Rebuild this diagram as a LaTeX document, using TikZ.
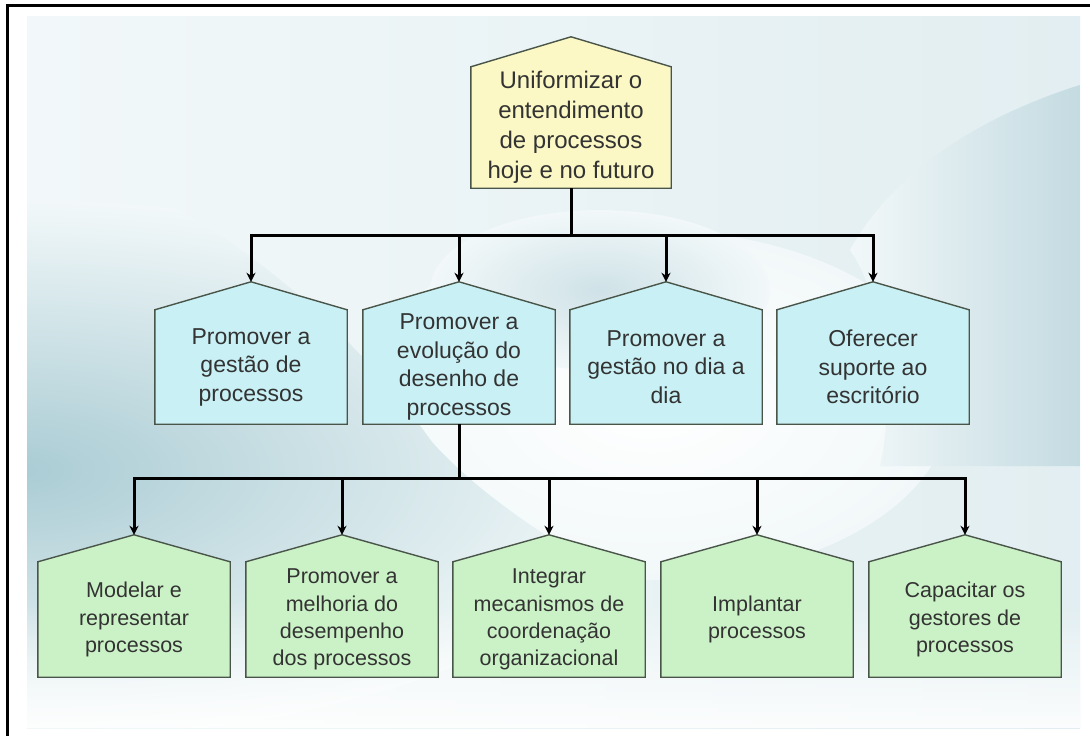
\documentclass[tikz,border=0pt]{standalone}
\usepackage{fontspec}
\setmainfont{Liberation Sans}
\usetikzlibrary{calc,arrows.meta}

\pgfdeclarelayer{backdrop}
\pgfdeclarelayer{boxes}
\pgfsetlayers{backdrop,boxes,main}

\definecolor{bgA}{HTML}{F2F8F9}
\definecolor{bgB}{HTML}{E2EEF1}
\definecolor{tealdeep}{HTML}{AACCD4}
\definecolor{bluegray}{HTML}{C4DBE1}
\definecolor{glow}{HTML}{CFE2E7}
\definecolor{goalfill}{HTML}{FBF8C5}
\definecolor{midfill}{HTML}{C9F1F5}
\definecolor{lowfill}{HTML}{CBF2C6}
\definecolor{edge}{HTML}{4A554A}
\definecolor{txt}{HTML}{333333}

\begin{document}
\begin{tikzpicture}[x=1pt,y=-1pt,
  body/.style={inner sep=0pt, align=center, text=txt},
  goalbody/.style={body, minimum width=200pt, minimum height=121pt,
    font=\fontsize{24}{30}\selectfont},
  midbody/.style={body, minimum width=192pt, minimum height=114pt,
    font=\fontsize{23}{28.5}\selectfont},
  lowbody/.style={body, minimum width=192pt, minimum height=115pt,
    font=\fontsize{21.5}{27.2}\selectfont},
  house/.style={fill=#1, draw=edge, line width=1.4pt, line join=miter},
  houseshadow/.style={fill=black, opacity=0.22},
  wire/.style={draw=black, line width=3pt},
  feed/.style={wire, -{Stealth[length=9pt,width=9pt]}, line join=miter}
]
\useasboundingbox (0,0) rectangle (1090,736);

% ---------- text bodies ----------
\node[goalbody] (goal) at (571,127.5) {Uniformizar o\\entendimento\\de processos\\hoje e no futuro};

\node[midbody] (m1) at (251,367) {Promover a\\gestão de\\processos};
\node[midbody] (m2) at (459,367) {Promover a\\evolução do\\desenho de\\processos};
\node[midbody] (m3) at (666,367) {Promover a\\gestão no dia a\\dia};
\node[midbody] (m4) at (873,367) {Oferecer\\suporte ao\\escritório};

\node[lowbody] (b1) at (134,619.5) {Modelar e\\representar\\processos};
\node[lowbody] (b2) at (342,619.5) {Promover a\\melhoria do\\desempenho\\dos processos};
\node[lowbody] (b3) at (549,619.5) {Integrar\\mecanismos de\\coordenação\\organizacional};
\node[lowbody] (b4) at (757,619.5) {Implantar\\processos};
\node[lowbody] (b5) at (965,619.5) {Capacitar os\\gestores de\\processos};

% roof peaks
\coordinate (goal-top) at ($(goal.north)+(0,-30)$);
\foreach \n in {m1,m2,m3,m4} \coordinate (\n-top) at ($(\n.north)+(0,-28)$);
\foreach \n in {b1,b2,b3,b4,b5} \coordinate (\n-top) at ($(\n.north)+(0,-27)$);

% ---------- connectors ----------
\coordinate (split1) at (571,235);
\coordinate (split2) at (459,478);
\draw[wire] (goal.south) -- (split1);
\foreach \n in {m1,m2,m3,m4} \draw[feed] (split1) -| (\n-top);
\draw[wire] (m2.south) -- (split2);
\foreach \n in {b1,b2,b3,b4,b5} \draw[feed] (split2) -| (\n-top);

% ---------- house outlines ----------
\begin{pgfonlayer}{boxes}
  \foreach \n/\c in {goal/goalfill,m1/midfill,m2/midfill,m3/midfill,m4/midfill,
                     b1/lowfill,b2/lowfill,b3/lowfill,b4/lowfill,b5/lowfill}{
    \fill[houseshadow, shift={(2.2,2.2)}] (\n.south west) -- (\n.north west) -- (\n-top)
      -- (\n.north east) -- (\n.south east) -- cycle;
    \path[house=\c] (\n.south west) -- (\n.north west) -- (\n-top)
      -- (\n.north east) -- (\n.south east) -- cycle;
  }
\end{pgfonlayer}

% ---------- backdrop ----------
\begin{pgfonlayer}{backdrop}
  \fill[white] (0,0) rectangle (1090,736);
  \shade[left color=bgA, right color=bgB] (27,16) rectangle (1080,728);
  % bright oval in the middle
  \shade[inner color=white, outer color=bgA] (650,405) ellipse (300 and 175);
  % soft glow above the middle row
  \shade[inner color=glow, outer color=bgA] (600,290) ellipse (170 and 80);
  % lower left sweep
  \begin{scope}
    \clip (27,150) .. controls (200,190) and (345,320) .. (432,442)
      .. controls (520,540) and (700,625) .. (900,728) -- (27,728) -- cycle;
    \shade[inner color=tealdeep, outer color=bgA] (15,470) ellipse (640 and 270);
  \end{scope}
  % right band
  \begin{scope}
    \clip (1080,85) -- (1080,466) -- (880,466)
      .. controls (895,400) and (885,300) .. (850,250)
      .. controls (900,160) and (1000,110) .. (1080,85) -- cycle;
    \shade[left color=bgA, right color=bluegray] (850,85) rectangle (1080,466);
  \end{scope}
  % fade towards white at the bottom
  \foreach \i in {0,...,31}
    \fill[white, opacity=\i/36] (27,600+4*\i) rectangle (1080,604+4*\i);
  % frame lines
  \draw[line width=3.5pt, line join=miter] (7.5,736) -- (7.5,5.5) -- (1090,5.5);
\end{pgfonlayer}
\end{tikzpicture}
\end{document}
